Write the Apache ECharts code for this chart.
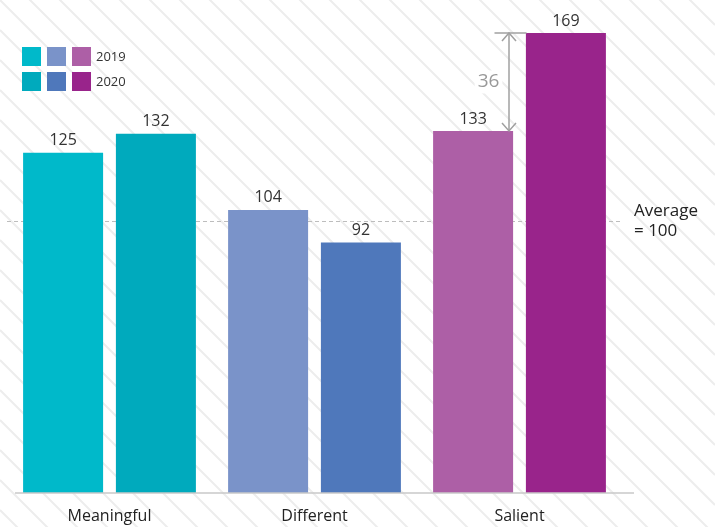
<!doctype html>
<html lang="en">
<head>
    <meta charset="utf-8">
    <title>Meaningful / Different / Salient</title>
    <script src="https://cdn.jsdelivr.net/npm/echarts@6.0.0/dist/echarts.min.js"></script>
</head>
<body style="margin:0">
    <div id="main" style="width:715px; height:527px;"></div>
    <script type="text/javascript">
        var categories = ['Meaningful', 'Different', 'Salient'];
        var years = ['2019', '2020'];
        var values2019 = [125, 104, 133];
        var values2020 = [132, 92, 169];
        var colors2019 = ['#00B9CA', '#7A93C9', '#AD5FA6'];
        var colors2020 = ['#00AABD', '#4F78BB', '#99248B'];
        var average = 100;
        // gap annotation on Salient: [category index, 2019 value, 2020 value]
        var gapNote = [[2, values2019[2], values2020[2]]];

        var FONT = '"Open Sans", sans-serif';

        var chartDom = document.getElementById('main');
        var myChart = echarts.init(chartDom);

        // diagonal stripe background
        var graphics = [];
        for (var c = -720; c < 560; c += 30) {
            graphics.push({
                type: 'line', silent: true, z: -10,
                shape: { x1: 0, y1: c, x2: 715, y2: c + 715 },
                style: { stroke: '#ededed', lineWidth: 2 }
            });
        }
        // baseline
        graphics.push({
            type: 'line', silent: true, z: 5,
            shape: { x1: 15, y1: 493, x2: 634, y2: 493 },
            style: { stroke: '#c8c8c8', lineWidth: 1.5 }
        });
        // legend: one swatch per category, one row per year
        [colors2019, colors2020].forEach(function (cols, row) {
            cols.forEach(function (col, i) {
                graphics.push({
                    type: 'rect', z: 5,
                    shape: { x: 22 + i * 25, y: 47 + row * 25, width: 19, height: 19 },
                    style: { fill: col }
                });
            });
            graphics.push({
                type: 'text', z: 5, x: 96, y: 57 + row * 25,
                style: { text: years[row], fill: '#333', font: '13px ' + FONT, verticalAlign: 'middle' }
            });
        });

        var barLabel = {
            show: true, position: 'top', distance: 4,
            color: '#333', fontSize: 16, fontFamily: FONT
        };

        var option = {
            animation: false,
            backgroundColor: '#fff',
            graphic: graphics,
            grid: { left: 7, right: 93, top: 3, bottom: 34 },
            xAxis: {
                type: 'category',
                data: categories,
                axisLine: { show: false },
                axisTick: { show: false },
                axisLabel: { color: '#222', fontSize: 16, fontFamily: FONT, margin: 15 }
            },
            yAxis: {
                type: 'value', min: 0, max: 180,
                show: false,
                splitLine: { show: false }
            },
            series: [
                {
                    name: years[0], type: 'bar', barWidth: 80, barGap: '16%',
                    data: values2019.map(function (v, i) {
                        return { value: v, itemStyle: { color: colors2019[i] } };
                    }),
                    label: barLabel,
                    markLine: {
                        silent: true, symbol: 'none', z: 1,
                        lineStyle: { color: '#bdbdbd', type: [4, 3], width: 1 },
                        label: {
                            position: 'end', distance: 12,
                            formatter: 'Average\n= ' + average,
                            color: '#222', fontSize: 17, fontFamily: FONT, lineHeight: 20
                        },
                        data: [{ yAxis: average }]
                    }
                },
                {
                    name: years[1], type: 'bar', barWidth: 80,
                    data: values2020.map(function (v, i) {
                        return { value: v, itemStyle: { color: colors2020[i] } };
                    }),
                    label: barLabel
                },
                {
                    type: 'custom', z: 10, silent: true,
                    data: gapNote,
                    encode: { x: 0, y: [1, 2] },
                    renderItem: function (params, api) {
                        var lo = api.coord([api.value(0), api.value(1)]);
                        var hi = api.coord([api.value(0), api.value(2)]);
                        var x = lo[0] - 10.5;
                        var stroke = { stroke: '#a0a0a0', lineWidth: 1.5, fill: null };
                        return {
                            type: 'group',
                            children: [
                                { type: 'line', shape: { x1: lo[0] - 25, y1: hi[1], x2: lo[0] + 7, y2: hi[1] }, style: stroke },
                                { type: 'line', shape: { x1: x, y1: hi[1], x2: x, y2: lo[1] }, style: stroke },
                                { type: 'polyline', shape: { points: [[x - 7, hi[1] + 8], [x, hi[1]], [x + 7, hi[1] + 8]] }, style: stroke },
                                { type: 'polyline', shape: { points: [[x - 7, lo[1] - 8], [x, lo[1]], [x + 7, lo[1] - 8]] }, style: stroke },
                                {
                                    type: 'text', x: lo[0] - 31, y: (lo[1] + hi[1]) / 2,
                                    style: {
                                        text: String(api.value(2) - api.value(1)),
                                        fill: '#999', font: '19px ' + FONT,
                                        align: 'center', verticalAlign: 'middle',
                                        backgroundColor: '#fff', padding: [2, 3]
                                    }
                                }
                            ]
                        };
                    }
                }
            ]
        };

        myChart.setOption(option);
    </script>
</body>
</html>
